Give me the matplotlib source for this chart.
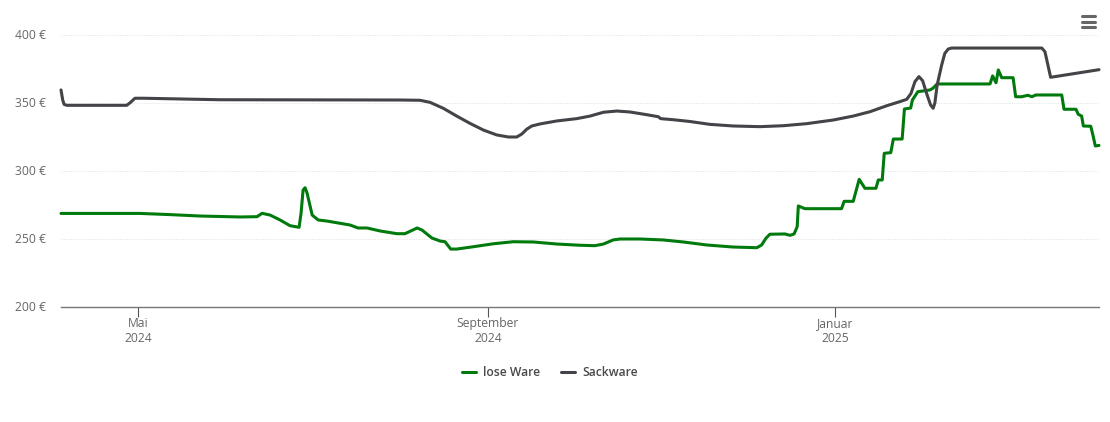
import matplotlib
matplotlib.use('Agg')

import matplotlib.pyplot as plt
import matplotlib.lines as mlines
import matplotlib.dates as mdates
import matplotlib.transforms as mtransforms
import numpy as np

WIDTH = 1110
HEIGHT = 422
BASE_DATE = np.datetime64('2024-05-01')

# days since 2024-05-01 / euro per 1000 l
lose_days = [-27.1, 0.7, 10.5, 21.8, 35.9, 41.8, 43.6, 46.4, 49.9, 53.4, 56.6, 57.3, 58.0, 58.7, 59.4,
             61.2, 63.3, 66.4, 74.5, 77.3, 80.5, 85.1, 91.0, 93.8, 98.1, 99.8, 103.3, 106.2,
             107.9, 109.9, 112.0, 117.8, 124.9, 131.9, 139.0, 147.2, 155.4, 160.6, 163.6,
             167.0, 169.4, 176.4, 184.6, 191.7, 199.9, 209.2, 217.5, 219.2, 220.7, 222.1,
             227.4, 229.2, 230.6, 231.7, 232.1, 234.4, 247.3, 248.2, 251.4,
             253.5, 255.5, 259.4, 260.2, 261.6, 262.3, 264.6, 265.5, 268.6, 269.4, 271.6,
             272.2, 274.1, 278.4, 279.5, 280.9, 299.5, 300.4, 301.6, 302.4, 303.6, 307.6, 308.5,
             310.6, 312.8, 314.2, 315.6, 324.7, 325.5, 329.7, 330.5, 331.7, 332.3, 334.9,
             335.8, 336.5, 337.8]
lose_price = [268.8, 268.8, 268.0, 266.9, 266.2, 266.4, 268.9, 267.6, 264.0, 259.8, 258.6, 269.1, 286.0, 287.7, 283.8,
              267.6, 264.0, 263.2, 260.3, 258.1, 258.1, 255.9, 253.9, 253.9, 258.1, 256.6, 250.7, 248.5,
              248.0, 242.6, 242.6, 244.3, 246.5, 248.0, 247.8, 246.3, 245.4, 245.1, 246.3,
              249.3, 250.0, 250.0, 249.3, 247.8, 245.6, 244.1, 243.6, 245.6, 250.5, 253.5,
              253.7, 252.7, 253.7, 259.0, 274.3, 272.3, 272.3, 277.7, 277.7,
              293.9, 287.3, 287.3, 293.4, 293.4, 313.0, 313.5, 323.5, 323.5, 345.6, 346.3,
              352.2, 358.3, 359.6, 361.0, 364.0, 364.0, 369.9, 364.9, 374.3, 368.6, 368.6, 354.6,
              354.6, 355.7, 354.6, 355.9, 355.9, 345.4, 345.4, 341.7, 340.4, 333.1, 332.9,
              325.2, 318.4, 318.8]

sack_days = [-27.1, -26.5, -26.0, -25.1, -4.0, -2.8, -1.1, 1.8, 28.8, 92.1, 99.1, 102.6, 107.3, 112.0,
             116.7, 121.4, 126.1, 130.2, 133.1, 134.9, 136.6, 138.4, 141.3, 147.2, 154.2, 158.9,
             163.6, 168.3, 172.9, 178.8, 182.9, 183.7, 188.2, 194.0, 201.0, 209.2, 218.6, 226.8,
             235.0, 244.4, 251.4, 257.3, 263.2, 267.8, 270.2, 271.7, 273.1, 274.5, 275.8, 277.2,
             278.6, 279.5, 280.1, 280.9, 282.5, 283.6, 284.8, 286.0, 317.7, 318.8, 320.8, 337.8]
sack_price = [359.6, 352.2, 349.0, 348.3, 348.3, 350.2, 353.5, 353.5, 352.4, 352.2, 352.0, 350.5, 346.1, 340.4,
              335.0, 330.1, 326.5, 325.0, 325.0, 327.2, 330.7, 333.1, 334.6, 336.8, 338.5, 340.4,
              343.2, 344.1, 343.4, 341.4, 339.9, 338.5, 337.7, 336.4, 334.3, 333.1, 332.6, 333.3,
              334.8, 337.5, 340.4, 343.6, 348.0, 351.0, 352.7, 357.0, 365.7, 369.4, 366.4, 357.0,
              348.5, 346.1, 350.0, 363.2, 378.0, 386.5, 389.7, 390.4, 390.4, 387.7, 368.9, 374.5]

y_ticks = [200, 250, 300, 350, 400]
x_tick_dates = ['2024-05-01', '2024-09-01', '2025-01-01']
x_tick_labels = ['Mai\n2024', 'September\n2024', 'Januar\n2025']

GREEN = '#007a0c'
GRAY = '#434348'
TEXT = '#666666'

plt.rcParams['font.family'] = ['Open Sans', 'DejaVu Sans']


def to_dates(days):
    return BASE_DATE + np.round(np.array(days) * 24 * 60).astype('timedelta64[m]')


fig = plt.figure(figsize=(WIDTH / 100, HEIGHT / 100), dpi=100)
ax = fig.add_axes([61 / WIDTH, (HEIGHT - 307) / HEIGHT, (1099 - 61) / WIDTH, (307 - 35) / HEIGHT])

line_style = dict(linewidth=2.2, solid_joinstyle='round', solid_capstyle='round')
ax.plot(to_dates(lose_days), lose_price, color=GREEN, clip_on=False, zorder=3, **line_style)
ax.plot(to_dates(sack_days), sack_price, color=GRAY, clip_on=False, zorder=4, **line_style)

ax.set_xlim(to_dates([-27.1])[0], to_dates([337.8])[0])
ax.set_ylim(200, 400)

ax.set_yticks(y_ticks)
ax.set_yticklabels([f'{v} €' for v in y_ticks])
ax.grid(axis='y', color='#e0e0e0', linewidth=0.7, linestyle=(0, (1, 1.5)))
ax.set_axisbelow(True)
ax.tick_params(axis='y', length=0, pad=11, labelsize=8.7, labelcolor=TEXT)

# y labels sit one pixel higher than matplotlib centres them
up_one = mtransforms.ScaledTranslation(0, 1 / 100, fig.dpi_scale_trans)
for label in ax.get_yticklabels():
    label.set_transform(label.get_transform() + up_one)

ax.set_xticks(mdates.date2num(np.array(x_tick_dates, dtype='datetime64[D]')))
ax.set_xticklabels(x_tick_labels, linespacing=1.22)
ax.tick_params(axis='x', length=7.2, width=0.8, color='#555555', pad=0, labelsize=8.7, labelcolor=TEXT)

for side in ['top', 'left', 'right']:
    ax.spines[side].set_visible(False)
ax.spines['bottom'].set_color('#777777')
ax.spines['bottom'].set_linewidth(1.0)

# Legend
legend_elements = [
    mlines.Line2D([0], [0], color=GREEN, linewidth=2.2, solid_capstyle='round', label='lose Ware'),
    mlines.Line2D([0], [0], color=GRAY, linewidth=2.2, solid_capstyle='round', label='Sackware'),
]
leg = fig.legend(handles=legend_elements, loc='center', bbox_to_anchor=(550 / WIDTH, 1 - 373 / HEIGHT),
                 ncol=2, frameon=False, fontsize=8.7, handlelength=1.17, handletextpad=0.55,
                 columnspacing=1.75, borderpad=0)
for text in leg.get_texts():
    text.set_color('#4a4a4a')
    text.set_fontweight('semibold')

# Menu icon
for py in [16, 21.5, 27]:
    fig.add_artist(mlines.Line2D([1081.5 / WIDTH, 1095 / WIDTH], [1 - py / HEIGHT, 1 - py / HEIGHT],
                                 color='#666666', linewidth=2.2, solid_capstyle='round'))

fig.savefig('out.png', dpi=100)
